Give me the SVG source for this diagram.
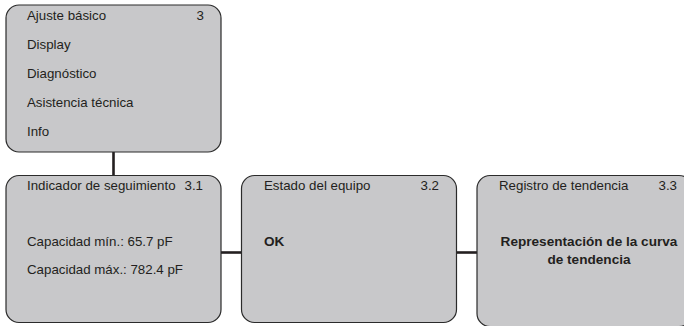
<svg xmlns="http://www.w3.org/2000/svg" width="684" height="326" viewBox="0 0 684 326">
<style>
.box{fill:#c8c8ca;stroke:#2b2b2b;stroke-width:1.2}
.t{font-family:"Liberation Sans",Arial,sans-serif;font-size:13.3px;fill:#231f20}
.b{font-family:"Liberation Sans",Arial,sans-serif;font-size:13.6px;font-weight:bold;fill:#231f20}
.c{stroke:#231f20;stroke-width:2.6;fill:none}
</style>
<rect width="684" height="326" fill="#ffffff"/>
<g id="connectors">
<line class="c" x1="113.5" y1="152" x2="113.5" y2="175.5"/>
<line class="c" x1="221" y1="252.5" x2="241.5" y2="252.5"/>
<line class="c" x1="456.5" y1="252.5" x2="477" y2="252.5"/>
</g>
<g id="node-3">
<rect class="box" x="6" y="5" width="215" height="147" rx="13"/>
<text class="t" x="27" y="19.5">Ajuste básico</text>
<text class="t" x="204" y="19.5" text-anchor="end">3</text>
<text class="t" x="27" y="48.5">Display</text>
<text class="t" x="27" y="77.5">Diagnóstico</text>
<text class="t" x="27" y="106.5">Asistencia técnica</text>
<text class="t" x="27" y="135.5">Info</text>
</g>
<g id="node-3-1">
<rect class="box" x="6" y="175.5" width="215" height="147" rx="13"/>
<text class="t" x="27" y="190">Indicador de seguimiento</text>
<text class="t" x="203" y="190" text-anchor="end">3.1</text>
<text class="t" x="27" y="246">Capacidad mín.: 65.7 pF</text>
<text class="t" x="27" y="273.5">Capacidad máx.: 782.4 pF</text>
</g>
<g id="node-3-2">
<rect class="box" x="241.5" y="175.5" width="215" height="147" rx="13"/>
<text class="t" x="264" y="190">Estado del equipo</text>
<text class="t" x="439" y="190" text-anchor="end">3.2</text>
<text class="b" x="264" y="246">OK</text>
</g>
<g id="node-3-3">
<rect class="box" x="477" y="175.5" width="215" height="151" rx="13"/>
<text class="t" x="499" y="190">Registro de tendencia</text>
<text class="t" x="677" y="190" text-anchor="end">3.3</text>
<text class="b" x="589" y="246" text-anchor="middle">Representación de la curva</text>
<text class="b" x="589" y="263.5" text-anchor="middle">de tendencia</text>
</g>
</svg>
